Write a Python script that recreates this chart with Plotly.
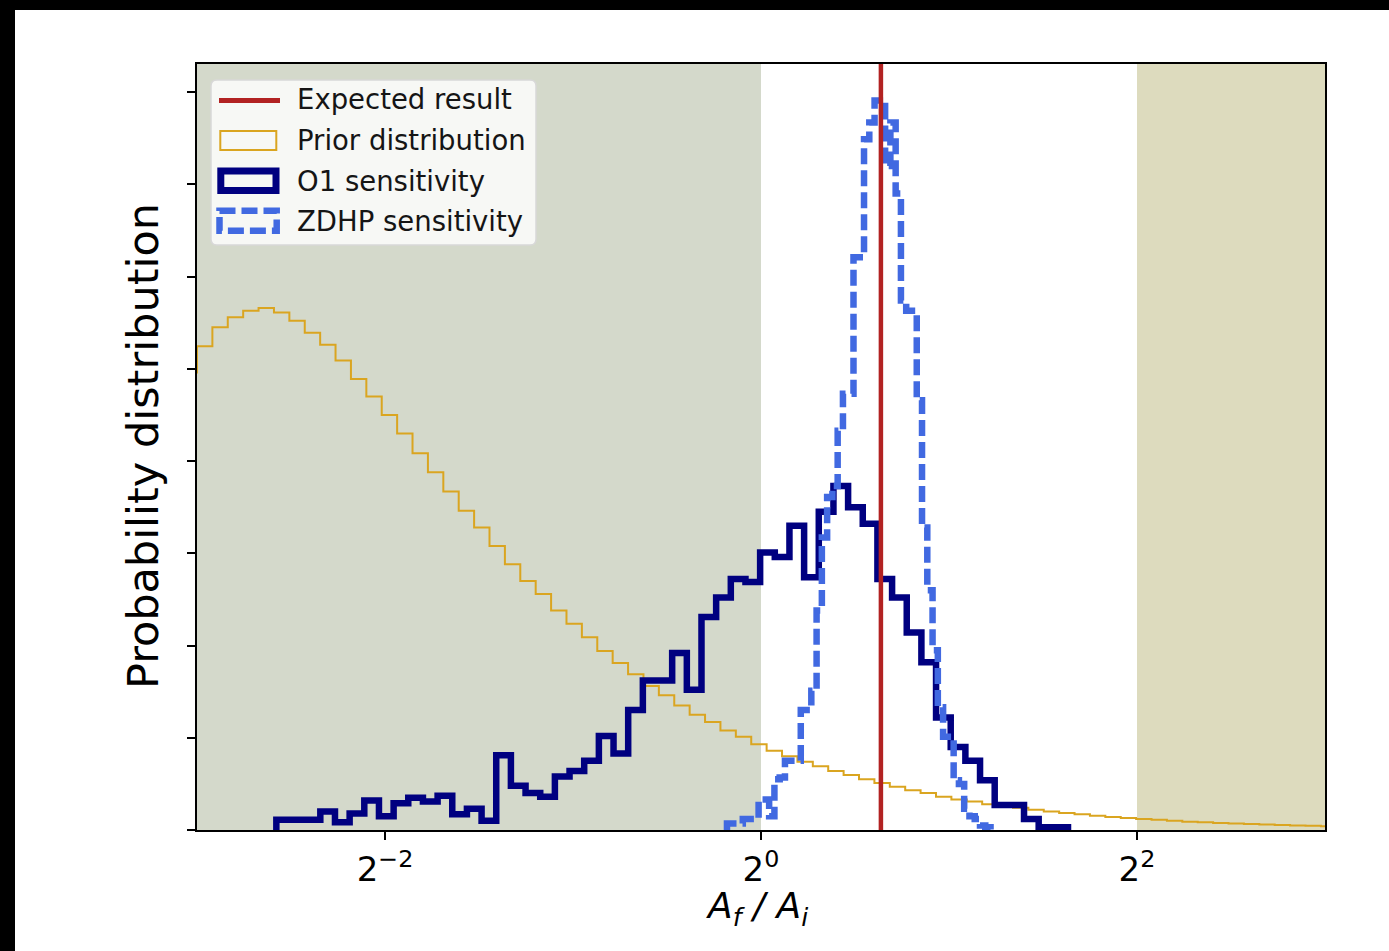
import numpy as np
import plotly.graph_objects as go

# ---------------- data ----------------
X_MIN, X_MAX = 0.125, 8.0          # A_f/A_i axis range (2^-3 .. 2^3)
Y_MAX = 8.305                      # y range top (tick units)
EXPECTED = 1.556                   # expected A_f/A_i
SHADE_LOW = (0.125, 1.0)           # shaded band below 2^0
SHADE_HIGH = (4.0, 8.0)            # shaded band above 2^2

x_tick_vals = [0.25, 1.0, 4.0]
x_tick_text = ["2<sup>−2</sup>", "2<sup>0</sup>", "2<sup>2</sup>"]
y_tick_vals = [0, 1, 2, 3, 4, 5, 6, 7, 8]

# prior distribution histogram (bins in log2 space)
prior_edges_log2 = np.linspace(-3.082, 3.06, 76)
prior_counts = [4.96, 5.245, 5.45, 5.56, 5.63, 5.66, 5.61, 5.52, 5.39, 5.26,
                5.09, 4.89, 4.70, 4.50, 4.30, 4.085, 3.88, 3.67, 3.46, 3.28,
                3.08, 2.88, 2.70, 2.56, 2.38, 2.235, 2.09, 1.94, 1.81, 1.69,
                1.56, 1.46, 1.35, 1.25, 1.17, 1.08, 1.01, 0.93, 0.86, 0.80,
                0.74, 0.69, 0.64, 0.595, 0.55, 0.51, 0.47, 0.43, 0.40, 0.36,
                0.33, 0.31, 0.28, 0.26, 0.24, 0.22, 0.20, 0.185, 0.17, 0.155,
                0.14, 0.13, 0.12, 0.11, 0.10, 0.09, 0.085, 0.075, 0.07, 0.065,
                0.06, 0.055, 0.05, 0.045, 0.04]

# O1 sensitivity histogram
o1_edges_log2 = np.linspace(-2.578, 1.633, 55)
o1_counts = [0.11, 0.11, 0.11, 0.20, 0.085, 0.18, 0.32, 0.15, 0.29, 0.35,
             0.31, 0.37, 0.17, 0.23, 0.10, 0.81, 0.48, 0.40, 0.36, 0.58,
             0.64, 0.75, 1.02, 0.83, 1.30, 1.62, 1.62, 1.92, 1.52, 2.31,
             2.52, 2.72, 2.69, 3.01, 2.96, 3.30, 2.74, 3.45, 3.73, 3.50,
             3.32, 2.72, 2.52, 2.14, 1.82, 1.22, 0.90, 0.75, 0.54, 0.27,
             0.27, 0.12, 0.03, 0.03]

# ZDHP sensitivity histogram
zdhp_edges_log2 = np.linspace(-0.181, 1.221, 51)
zdhp_counts = [0.07, 0.07, 0.07, 0.12, 0.12, 0.12, 0.33, 0.33, 0.15, 0.55,
               0.57, 0.75, 0.75, 0.75, 1.30, 1.30, 1.51, 2.38, 3.17, 3.61,
               3.73, 4.33, 4.73, 4.73, 6.21, 6.21, 7.49, 7.67, 7.91, 7.85,
               7.20, 7.67, 6.90, 5.74, 5.63, 5.63, 4.66, 3.28, 2.60, 1.95,
               1.33, 1.01, 1.01, 0.54, 0.50, 0.23, 0.15, 0.12, 0.05, 0.03]

legend_labels = ["Expected result", "Prior distribution",
                 "O1 sensitivity", "ZDHP sensitivity"]

# ---------------- styling ----------------
W, H = 1389, 951
PL, PR, PT, PB = 197, 1325, 64, 830
FONT = "DejaVu Sans"
C_RED, C_PRIOR, C_O1, C_ZDHP = "#B22222", "#DAA520", "#000080", "#4169E1"
ZDHP_DASH = "16px,6px"


def xp(px):
    return (px - PL) / (PR - PL)


def yp(py):
    return (PB - py) / (PB - PT)


def xdata_to_paper(v):
    return (np.log2(v) - np.log2(X_MIN)) / (np.log2(X_MAX) - np.log2(X_MIN))


def step_xy(edges_log2, counts):
    e = [2.0 ** v for v in edges_log2]
    xs = [e[0]] + e[:-1] + [e[-1], e[-1]]
    ys = [0] + list(counts) + [counts[-1], 0]
    return xs, ys


fig = go.Figure()

px_, py_ = step_xy(prior_edges_log2, prior_counts)
fig.add_trace(go.Scatter(x=px_, y=py_, mode="lines", line_shape="hv",
                         line=dict(color=C_PRIOR, width=2), name=legend_labels[1]))
ox, oy = step_xy(o1_edges_log2, o1_counts)
fig.add_trace(go.Scatter(x=ox, y=oy, mode="lines", line_shape="hv",
                         line=dict(color=C_O1, width=6.5), name=legend_labels[2]))
zx, zy = step_xy(zdhp_edges_log2, zdhp_counts)
fig.add_trace(go.Scatter(x=zx, y=zy, mode="lines", line_shape="hv",
                         line=dict(color=C_ZDHP, width=6.5, dash=ZDHP_DASH),
                         name=legend_labels[3]))
fig.add_trace(go.Scatter(x=[EXPECTED, EXPECTED], y=[0, Y_MAX], mode="lines",
                         line=dict(color=C_RED, width=4.5), name=legend_labels[0]))

shapes = []
# shaded regions
shapes.append(dict(type="rect", xref="paper", yref="paper",
                   x0=xdata_to_paper(SHADE_LOW[0]), x1=xdata_to_paper(SHADE_LOW[1]),
                   y0=0, y1=1, fillcolor="#D4D9CB", line=dict(width=0), layer="below"))
shapes.append(dict(type="rect", xref="paper", yref="paper",
                   x0=xdata_to_paper(SHADE_HIGH[0]), x1=xdata_to_paper(SHADE_HIGH[1]),
                   y0=0, y1=1, fillcolor="#DDDBBE", line=dict(width=0), layer="below"))

# legend box (rounded)
bx0, bx1, by0, by1, r = 211, 536, 80, 245, 6
path = (f"M{xp(bx0 + r)},{yp(by0)} L{xp(bx1 - r)},{yp(by0)} "
        f"Q{xp(bx1)},{yp(by0)} {xp(bx1)},{yp(by0 + r)} "
        f"L{xp(bx1)},{yp(by1 - r)} Q{xp(bx1)},{yp(by1)} {xp(bx1 - r)},{yp(by1)} "
        f"L{xp(bx0 + r)},{yp(by1)} Q{xp(bx0)},{yp(by1)} {xp(bx0)},{yp(by1 - r)} "
        f"L{xp(bx0)},{yp(by0 + r)} Q{xp(bx0)},{yp(by0)} {xp(bx0 + r)},{yp(by0)} Z")
shapes.append(dict(type="path", xref="paper", yref="paper", path=path,
                   fillcolor="rgba(255,255,255,0.8)", line=dict(color="#D8D8D8", width=1.5),
                   layer="above"))
# legend handles
shapes.append(dict(type="line", xref="paper", yref="paper", x0=xp(219), x1=xp(280),
                   y0=yp(100.5), y1=yp(100.5), line=dict(color=C_RED, width=5), layer="above"))
shapes.append(dict(type="rect", xref="paper", yref="paper", x0=xp(220.3), x1=xp(276.3),
                   y0=yp(131), y1=yp(150), line=dict(color=C_PRIOR, width=2),
                   fillcolor="rgba(0,0,0,0)", layer="above"))
shapes.append(dict(type="rect", xref="paper", yref="paper", x0=xp(220.8), x1=xp(276),
                   y0=yp(171), y1=yp(190.5), line=dict(color=C_O1, width=7),
                   fillcolor="rgba(0,0,0,0)", layer="above"))
shapes.append(dict(type="rect", xref="paper", yref="paper", x0=xp(219.5), x1=xp(276.7),
                   y0=yp(210.7), y1=yp(230.7), line=dict(color=C_ZDHP, width=6.5, dash=ZDHP_DASH),
                   fillcolor="rgba(0,0,0,0)", layer="above"))
# black page edges
shapes.append(dict(type="rect", xref="paper", yref="paper", x0=xp(0), x1=xp(15),
                   y0=yp(H), y1=yp(0), fillcolor="black", line=dict(width=0), layer="above"))
shapes.append(dict(type="rect", xref="paper", yref="paper", x0=xp(0), x1=xp(W),
                   y0=yp(10), y1=yp(0), fillcolor="black", line=dict(width=0), layer="above"))

annotations = []
for label, cy in zip(legend_labels, [99, 140, 181, 221]):
    annotations.append(dict(xref="paper", yref="paper", x=xp(295), y=yp(cy), text=label,
                            showarrow=False, xanchor="left", yanchor="middle",
                            font=dict(family=FONT, size=27.5, color="#151515")))
annotations.append(dict(xref="paper", yref="paper", x=xp(757), y=yp(908),
                        text="<i>A</i><sub><i>f</i></sub><i> / A</i><sub><i>i</i></sub>",
                        showarrow=False, xanchor="center", yanchor="middle",
                        font=dict(family=FONT, size=36, color="black")))
annotations.append(dict(xref="paper", yref="paper", x=xp(143), y=yp(446),
                        text="Probability distribution", textangle=-90,
                        showarrow=False, xanchor="center", yanchor="middle",
                        font=dict(family=FONT, size=43, color="black")))

fig.update_layout(
    width=W, height=H,
    margin=dict(l=PL, r=W - PR, t=PT, b=H - PB, pad=0),
    paper_bgcolor="white", plot_bgcolor="white",
    showlegend=False, shapes=shapes, annotations=annotations,
    font=dict(family=FONT, color="black"),
)
fig.update_xaxes(type="log", range=[np.log10(X_MIN), np.log10(X_MAX)],
                 tickvals=x_tick_vals, ticktext=x_tick_text,
                 ticks="outside", ticklen=8, tickwidth=2, tickcolor="black",
                 showline=True, linecolor="black", linewidth=2, mirror=True,
                 showgrid=False, zeroline=False,
                 tickfont=dict(family=FONT, size=34, color="black"))
fig.update_yaxes(range=[0, Y_MAX], tickvals=y_tick_vals, showticklabels=False,
                 ticks="outside", ticklen=8, tickwidth=2, tickcolor="black",
                 showline=True, linecolor="black", linewidth=2, mirror=True,
                 showgrid=False, zeroline=False)

fig.write_html("out.html")
